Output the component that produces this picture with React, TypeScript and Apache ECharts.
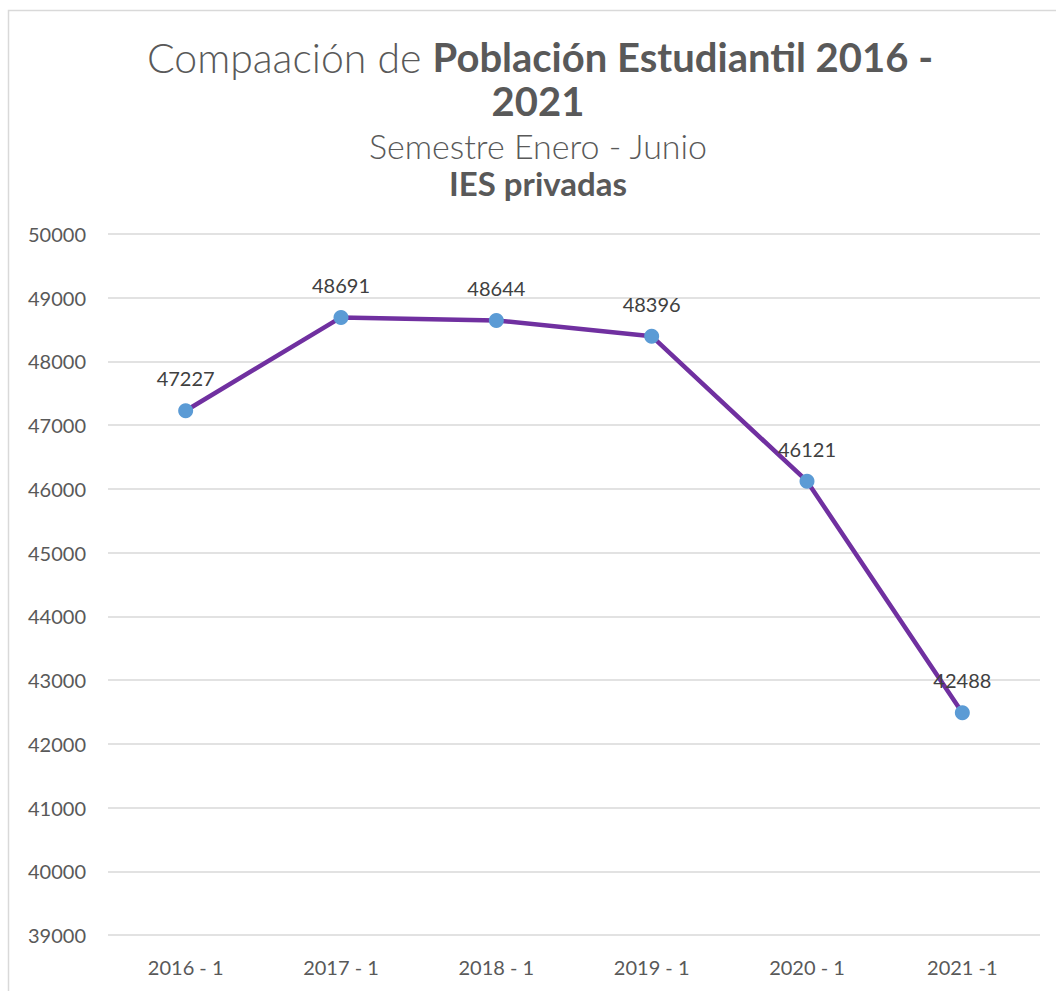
import React, { useEffect, useRef } from "react";
import * as echarts from "echarts";

const categories = ["2016 - 1", "2017 - 1", "2018 - 1", "2019 - 1", "2020 - 1", "2021 -1"];
const values = [47227, 48691, 48644, 48396, 46121, 42488];
const titleLight = "Compaación de ";
const titleBold1 = "Población Estudiantil 2016 -";
const titleBold2 = "2021";
const subtitle1 = "Semestre Enero - Junio";
const subtitle2 = "IES privadas";

export default function App() {
  const ref = useRef<HTMLDivElement>(null);
  useEffect(() => {
    if (!ref.current) return;
    const chart = echarts.init(ref.current, null, { renderer: "svg" });
    const titleColor = "#595959";
    chart.setOption({
      animation: false,
      backgroundColor: "#ffffff",
      graphic: [
        {
          type: "rect",
          shape: { x: 8.5, y: 10.5, width: 1200, height: 1200 },
          style: { fill: "none", stroke: "#d9d9d9", lineWidth: 1.5 },
          silent: true,
        },
        {
          type: "text",
          x: 540,
          y: 57,
          style: {
            text: `{a|${titleLight}}{b|${titleBold1}}`,
            align: "center",
            verticalAlign: "middle",
            rich: {
              a: { fontFamily: "Lato", fontWeight: 300, fontSize: 41, fill: titleColor },
              b: { fontFamily: "Lato", fontWeight: "bold", fontSize: 40, fill: titleColor },
            },
          },
        },
        {
          type: "text",
          x: 538,
          y: 101,
          style: {
            text: titleBold2,
            align: "center",
            verticalAlign: "middle",
            fontFamily: "Lato",
            fontWeight: "bold",
            fontSize: 40,
            fill: titleColor,
          },
        },
        {
          type: "text",
          x: 538,
          y: 145,
          style: {
            text: subtitle1,
            align: "center",
            verticalAlign: "middle",
            fontFamily: "Lato",
            fontWeight: 300,
            fontSize: 34,
            fill: titleColor,
          },
        },
        {
          type: "text",
          x: 538,
          y: 183,
          style: {
            text: subtitle2,
            align: "center",
            verticalAlign: "middle",
            fontFamily: "Lato",
            fontWeight: "bold",
            fontSize: 33,
            fill: titleColor,
          },
        },
      ],
      grid: { left: 108, right: 16, top: 234, bottom: 56, containLabel: false },
      xAxis: {
        type: "category",
        data: categories,
        boundaryGap: true,
        axisLine: { show: false },
        axisTick: { show: false },
        axisLabel: { color: "#595959", fontSize: 20, fontFamily: "Lato", margin: 22 },
      },
      yAxis: {
        type: "value",
        min: 39000,
        max: 50000,
        interval: 1000,
        axisLine: { show: false },
        axisTick: { show: false },
        axisLabel: {
          color: "#595959",
          fontSize: 20,
          fontFamily: "Lato",
          margin: 22,
          formatter: (v: number) => String(v),
        },
        splitLine: { lineStyle: { color: "#d9d9d9", width: 1.5 } },
      },
      series: [
        {
          type: "line",
          data: values,
          symbol: "circle",
          symbolSize: 15,
          lineStyle: { color: "#7030A0", width: 4.5 },
          itemStyle: { color: "#5B9BD5" },
          label: {
            show: true,
            position: "top",
            distance: 15,
            color: "#404040",
            fontSize: 20,
            fontFamily: "Lato",
          },
        },
      ],
    });
    return () => chart.dispose();
  }, []);
  return (
    <div
      ref={ref}
      style={{ position: "fixed", left: 0, top: 0, width: 1056, height: 991 }}
    />
  );
}
